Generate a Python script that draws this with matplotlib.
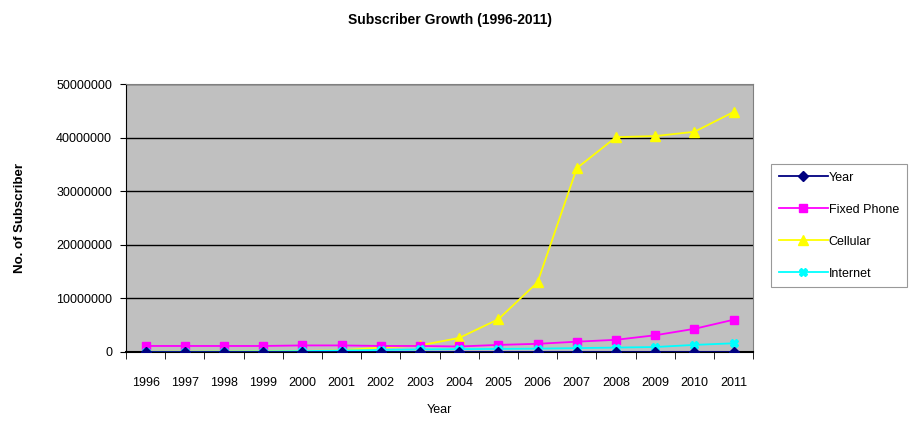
import matplotlib.pyplot as plt
import numpy as np

plt.rcParams['font.family'] = ['Liberation Sans', 'DejaVu Sans']

years = [1996, 1997, 1998, 1999, 2000, 2001, 2002, 2003,
         2004, 2005, 2006, 2007, 2008, 2009, 2010, 2011]
fixed_phone = [1100000, 1100000, 1100000, 1100000, 1200000, 1200000, 1100000, 1100000,
               1000000, 1300000, 1500000, 1900000, 2250000, 3100000, 4300000, 6000000]
cellular = [20000, 40000, 60000, 100000, 150000, 300000, 800000, 1200000,
            2600000, 6100000, 13000000, 34300000, 40100000, 40300000, 41100000, 44800000]
internet = [0, 10000, 30000, 60000, 130000, 250000, 350000, 450000,
            500000, 550000, 600000, 700000, 800000, 900000, 1300000, 1600000]

x = np.arange(len(years))

fig = plt.figure(figsize=(9.09, 4.36), dpi=100)
ax = fig.add_axes([0.1386, 0.193, 0.69, 0.614])
ax.set_facecolor('#c0c0c0')

ax.plot(x, years, color='#000080', marker='D', markersize=5, lw=1.3, label='Year', zorder=6)
ax.plot(x, fixed_phone, color='#ff00ff', marker='s', markersize=6, lw=1.3, label='Fixed Phone', zorder=4)
ax.plot(x, cellular, color='#ffff00', marker='^', markersize=7, lw=1.3, label='Cellular', zorder=3)
ax.plot(x, internet, color='#00ffff', marker='X', markersize=6, lw=1.3, label='Internet', zorder=5)

ax.set_xlim(-0.5, len(years) - 0.5)
ax.set_ylim(0, 50000000)
ax.set_yticks(np.arange(0, 50000001, 10000000))
ax.set_yticklabels([str(v) for v in range(0, 50000001, 10000000)], fontsize=9)
ax.yaxis.grid(True, color='black', lw=1.0)
ax.set_axisbelow(True)

# category labels at centres, tick marks between categories
ax.set_xticks(x)
ax.set_xticklabels([str(y) for y in years], fontsize=9)
ax.tick_params(axis='x', length=0, pad=18)
ax.set_xticks(np.arange(-0.5, len(years), 1.0), minor=True)
ax.tick_params(axis='x', which='minor', length=5, direction='out', color='black')
ax.tick_params(axis='y', length=4, direction='out', pad=6)

for side in ['top', 'right']:
    ax.spines[side].set_color('#808080')
ax.spines['left'].set_color('black')
ax.spines['bottom'].set_color('black')
ax.spines['bottom'].set_linewidth(1.5)

ax.set_xlabel('Year', fontsize=9, labelpad=11)
ax.set_ylabel('No. of Subscriber', fontsize=9.5, fontweight='bold', labelpad=22)
fig.text(0.495, 0.955, 'Subscriber Growth (1996-2011)', ha='center', va='center',
         fontsize=10, fontweight='bold')

leg = fig.legend(loc='upper left', bbox_to_anchor=(765 / 909, 1 - 158 / 436),
                 fontsize=9, handlelength=3.9, labelspacing=1.6, frameon=True,
                 fancybox=False, edgecolor='#808080', borderpad=0.6, handletextpad=0.1)
leg.get_frame().set_linewidth(0.8)

fig.savefig('out.png', dpi=100)
